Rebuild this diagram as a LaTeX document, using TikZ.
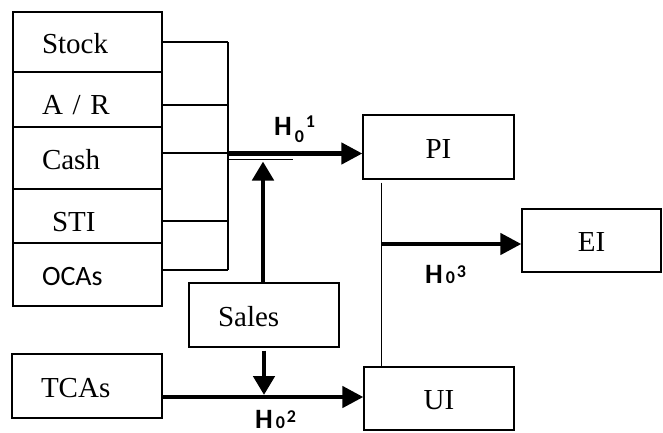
\documentclass[tikz,border=0pt]{standalone}
\usepackage{fontspec}
\setmainfont{Liberation Serif}
\newfontfamily\calfont{Carlito}
\usetikzlibrary{arrows.meta}

% hypothesis label: H, subscript 0 (lowered by #2), superscript #1 (raised by #3)
\newcommand{\hyplab}[3]{{\calfont\bfseries\fontsize{28}{28}\selectfont H\kern3pt\raisebox{#2}{\fontsize{18}{18}\selectfont 0}\kern2pt\raisebox{#3}{\fontsize{18}{18}\selectfont #1}}}

\begin{document}
\begin{tikzpicture}[x=1pt,y=-1pt,
  box/.style={draw, line width=1.3pt, rectangle, inner sep=0pt,
    text height=22pt, text depth=0pt, font=\fontsize{29}{29}\selectfont},
  lbox/.style={box, align=left, inner xsep=29pt, inner ysep=0pt,
    minimum width=#1, text width=#1-58pt},
  link/.style={line width=1.4pt},
  bigarrow/.style={line width=4.5pt, -{Triangle[length=21pt,width=21pt]}},
  uparrow/.style={line width=4.8pt, -{Triangle[length=19pt,width=21pt]}},
  hyp/.style={anchor=base west, inner sep=0pt}]
\useasboundingbox (0,0) rectangle (663,432);

% stacked current-asset components
\node[lbox=149pt, minimum height=60pt] (stock) at (87.5,42) {Stock};
\node[lbox=149pt, minimum height=55pt] (ar) at (87.5,99.5) {\raisebox{-4pt}{A / R}};
\node[lbox=149pt, minimum height=62pt] (cash) at (87.5,158) {Cash};
\node[lbox=149pt, minimum height=54pt] (sti) at (87.5,216) {\raisebox{-4pt}{\hspace*{10pt}STI}};
\node[lbox=149pt, minimum height=63pt] (ocas) at (87.5,274.5) {\calfont\fontsize{28}{28}\selectfont OCAs};

% other boxes
\node[lbox=150pt, minimum height=64pt] (tcas) at (87,386) {TCAs};
\node[lbox=150pt, minimum height=64pt] (sales) at (264,315) {Sales};
\node[box, minimum width=151pt, minimum height=64pt] (pi) at (438.5,147) {PI};
\node[box, minimum width=139pt, minimum height=63pt] (ei) at (591.5,240.5) {EI};
\node[box, minimum width=150pt, minimum height=63pt] (ui) at (439,398.5) {UI};

% bus collecting the components
\coordinate (bus1) at (228,42);
\coordinate (bus2) at (228,270);
\coordinate (arout) at ([yshift=-5.5pt]ar.east);
\coordinate (cashout) at ([yshift=5pt]cash.east);
\coordinate (stiout) at ([yshift=-5pt]sti.east);
\coordinate (ocasout) at ([yshift=4.5pt]ocas.east);
\draw[link] (stock.east) -- (stock.east -| bus1);
\draw[link] (arout) -- (arout -| bus1);
\draw[link] (cashout) -- (cashout -| bus1);
\draw[link] (stiout) -- (stiout -| bus1);
\draw[link] (ocasout) -- (ocasout -| bus1);
\draw[link] (bus1) -- (bus2);

% H0^1 path to PI
\coordinate (j1) at (228,153.5);
\coordinate (barL) at (228,159.5);
\coordinate (barR) at (293,159.5);
\draw[bigarrow] (j1) -- (j1 -| pi.west);
\draw[line width=5.5pt] (j1) -- (j1 -| barR);
\draw[link] (barL) -- (barR);
\coordinate (uptip) at (263,161.5);
\draw[uparrow] (sales.north -| uptip) -- (uptip);
\node[hyp] (h1) at (274,135) {\hyplab{1}{-7pt}{7.5pt}};

% H0^2 path to UI
\coordinate (j2) at (264,397);
\draw[bigarrow] (j2 -| tcas.east) -- (j2 -| ui.west);
\draw[uparrow] ([yshift=-3pt]sales.south) -- ([yshift=2pt]j2);
\node[hyp] (h2) at (255,428) {\hyplab{2}{0pt}{5.5pt}};

% H0^3 path to EI
\coordinate (v1) at ([xshift=19pt,yshift=-3pt]pi.south west);
\draw[link] (v1) -- (v1 |- ui.north);
\coordinate (j3) at (382,244);
\draw[bigarrow] (j3) -- (j3 -| ei.west);
\node[hyp] (h3) at (425,283) {\hyplab{3}{0pt}{6pt}};
\end{tikzpicture}
\end{document}
